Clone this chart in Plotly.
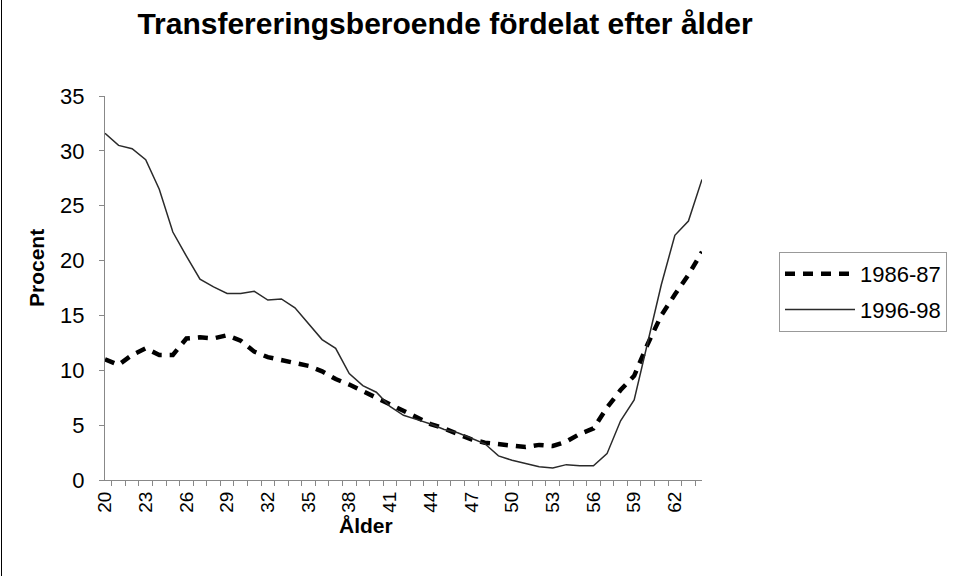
import plotly.graph_objects as go

ages = list(range(20, 65))
series_1986_87 = [11.0, 10.5, 11.4, 12.0, 11.4, 11.4, 12.9, 13.0, 12.9, 13.2,
                  12.7, 11.7, 11.2, 10.9, 10.6, 10.4, 9.9, 9.2, 8.7, 8.1,
                  7.5, 6.9, 6.3, 5.7, 5.1, 4.7, 4.2, 3.7, 3.4, 3.3,
                  3.2, 3.0, 3.2, 3.1, 3.5, 4.2, 4.7, 6.6, 8.2, 9.5,
                  12.4, 15.0, 16.9, 18.7, 20.8]
series_1996_98 = [31.6, 30.5, 30.2, 29.2, 26.5, 22.6, 20.4, 18.3, 17.6, 17.0,
                  17.0, 17.2, 16.4, 16.5, 15.7, 14.2, 12.8, 12.0, 9.7, 8.6,
                  8.0, 6.7, 5.9, 5.5, 5.1, 4.6, 4.3, 3.8, 3.3, 2.2,
                  1.8, 1.5, 1.2, 1.1, 1.4, 1.3, 1.3, 2.4, 5.4, 7.3,
                  12.5, 17.8, 22.3, 23.6, 27.4]
x_labels = [str(a) for a in ages]
tick_text = [str(a) if (a - 20) % 3 == 0 else "" for a in ages]
y_ticks = [0, 5, 10, 15, 20, 25, 30, 35]

FONT = "Liberation Sans, Arial, sans-serif"
L, R, T, B = 105, 273, 96, 96
PW, PH = 975 - L - R, 576 - T - B

fig = go.Figure()
fig.add_trace(go.Scatter(x=x_labels, y=series_1986_87, mode="lines", name="1986-87",
                         legendgroup="a",
                         line=dict(color="#000000", width=4.5, dash="10px,8px")))
fig.add_trace(go.Scatter(x=x_labels, y=series_1996_98, mode="lines", name="1996-98",
                         legendgroup="b",
                         line=dict(color="#2a2a2a", width=1.5)))

fig.update_layout(
    width=975, height=576,
    margin=dict(l=L, r=R, t=T, b=B),
    paper_bgcolor="white", plot_bgcolor="white",
    font=dict(family=FONT, color="#000000", size=21),
    title=dict(text="<b>Transfereringsberoende fördelat efter ålder</b>",
               xref="container", x=445 / 975, xanchor="center",
               yref="container", y=1 - 23 / 576, yanchor="middle",
               font=dict(size=30, family=FONT)),
    showlegend=True,
    legend=dict(x=(779 - L) / PW, y=(576 - B - 252) / PH, xanchor="left", yanchor="top",
                bordercolor="#999999", borderwidth=1, bgcolor="white",
                font=dict(size=22, family=FONT), itemwidth=70,
                traceorder="grouped", tracegroupgap=4),
    xaxis=dict(type="category", tickmode="array", tickvals=x_labels, ticktext=tick_text,
               tickson="boundaries", ticks="outside", ticklen=5, tickcolor="#888888",
               tickangle=-90, showline=True, linecolor="#888888", linewidth=1,
               showgrid=False, zeroline=False, ticklabelstandoff=3,
               tickfont=dict(size=19, family=FONT)),
    yaxis=dict(range=[0, 35], tickmode="array", tickvals=y_ticks,
               ticks="outside", ticklen=5, tickcolor="#888888",
               showline=True, linecolor="#888888", linewidth=1,
               showgrid=False, zeroline=False, ticklabelstandoff=10,
               tickfont=dict(size=22, family=FONT)),
    annotations=[
        dict(text="<b>Ålder</b>", xref="paper", yref="paper",
             x=(366 - L) / PW, y=-(525 - (576 - B)) / PH, xanchor="center", yanchor="middle",
             showarrow=False, font=dict(size=21, family=FONT)),
        dict(text="<b>Procent</b>", xref="paper", yref="paper",
             x=-(L - 36) / PW, y=(576 - B - 268) / PH, xanchor="center", yanchor="middle",
             textangle=-90, showarrow=False, font=dict(size=21, family=FONT)),
    ],
    shapes=[dict(type="line", xref="paper", yref="paper",
                 x0=-(L - 1.5) / PW, x1=-(L - 1.5) / PW, y0=-B / PH, y1=(576 - B) / PH,
                 line=dict(color="#000000", width=1))],
)

fig.write_html("out.html", config={"displayModeBar": False},
               post_script="document.body.style.margin='0';document.body.style.overflow='hidden';")
